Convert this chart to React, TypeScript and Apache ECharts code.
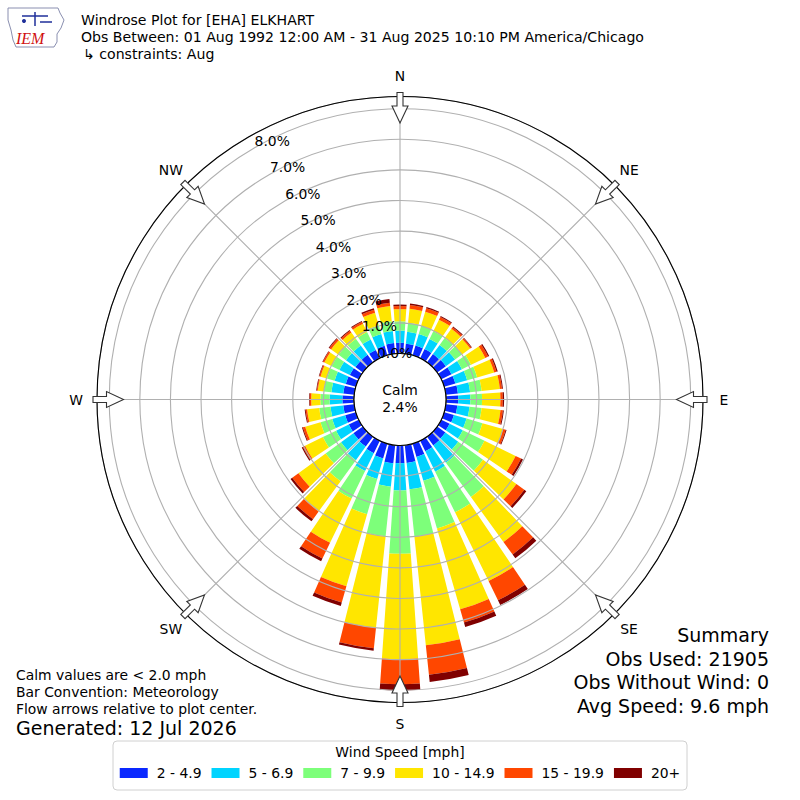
import React, { useEffect, useRef } from "react";
import * as echarts from "echarts";

// ---- data ----
const directions = [
  "0", "10", "20", "30", "40", "50", "60", "70", "80", "90", "100", "110",
  "120", "130", "140", "150", "160", "170", "180", "190", "200", "210", "220", "230",
  "240", "250", "260", "270", "280", "290", "300", "310", "320", "330", "340", "350",
];
const speedBins = ["2 - 4.9", "5 - 6.9", "7 - 9.9", "10 - 14.9", "15 - 19.9", "20+"];
const binColors = ["#0a28ff", "#00d4ff", "#7dff7a", "#ffe600", "#ff4700", "#800000"];

const bin2to5 = [0.35, 0.33, 0.33, 0.33, 0.33, 0.35, 0.37, 0.38, 0.40, 0.40, 0.38, 0.33, 0.30, 0.33, 0.35, 0.38, 0.45, 0.58, 0.58, 0.59, 0.50, 0.45, 0.40, 0.38, 0.36, 0.36, 0.36, 0.38, 0.36, 0.34, 0.32, 0.30, 0.30, 0.30, 0.32, 0.35];
const bin5to7 = [0.40, 0.39, 0.39, 0.37, 0.37, 0.37, 0.38, 0.40, 0.40, 0.40, 0.40, 0.43, 0.48, 0.52, 0.70, 0.74, 0.81, 0.87, 0.89, 0.77, 0.70, 0.65, 0.55, 0.50, 0.46, 0.44, 0.42, 0.42, 0.39, 0.38, 0.38, 0.38, 0.38, 0.38, 0.40, 0.40];
const bin7to10 = [0.30, 0.30, 0.28, 0.28, 0.28, 0.28, 0.33, 0.34, 0.38, 0.38, 0.40, 0.54, 0.79, 1.00, 1.39, 1.48, 1.62, 1.55, 2.07, 1.63, 1.20, 1.00, 0.85, 0.62, 0.48, 0.40, 0.37, 0.30, 0.25, 0.26, 0.28, 0.30, 0.27, 0.27, 0.30, 0.32];
const bin10to15 = [0.40, 0.46, 0.48, 0.42, 0.37, 0.33, 0.52, 0.58, 0.60, 0.60, 0.62, 0.70, 1.13, 1.35, 1.81, 2.50, 2.75, 3.57, 3.44, 3.01, 2.45, 1.61, 1.22, 1.10, 0.65, 0.52, 0.40, 0.30, 0.20, 0.22, 0.27, 0.30, 0.25, 0.30, 0.43, 0.50];
const bin15to20 = [0.10, 0.12, 0.12, 0.10, 0.07, 0.05, 0.10, 0.08, 0.07, 0.08, 0.08, 0.09, 0.20, 0.32, 0.51, 0.70, 0.45, 0.97, 0.82, 0.67, 0.55, 0.57, 0.31, 0.25, 0.08, 0.08, 0.05, 0.05, 0.03, 0.04, 0.05, 0.07, 0.07, 0.07, 0.10, 0.11];
const bin20plus = [0.05, 0.05, 0.04, 0.03, 0.03, 0.02, 0.04, 0.04, 0.03, 0.04, 0.03, 0.03, 0.07, 0.08, 0.15, 0.17, 0.15, 0.24, 0.21, 0.08, 0.12, 0.10, 0.09, 0.07, 0.04, 0.03, 0.03, 0.02, 0.02, 0.02, 0.02, 0.03, 0.03, 0.03, 0.05, 0.12];
const binValues = [bin2to5, bin5to7, bin7to10, bin10to15, bin15to20, bin20plus];

const radialMax = 8.4;
const radialStep = 1;
const calmPct = 2.4;
const compassNames = ["N", "NE", "E", "SE", "S", "SW", "W", "NW"];

const titleLines = [
  "Windrose Plot for [EHA] ELKHART",
  "Obs Between: 01 Aug 1992 12:00 AM - 31 Aug 2025 10:10 PM America/Chicago",
  "\u21b3 constraints: Aug",
];
const noteLines = [
  "Calm values are < 2.0 mph",
  "Bar Convention: Meteorology",
  "Flow arrows relative to plot center.",
];
const generatedLine = "Generated: 12 Jul 2026";
const summaryLines = ["Summary", "Obs Used: 21905", "Obs Without Wind: 0", "Avg Speed: 9.6 mph"];
const legendTitle = "Wind Speed [mph]";

// ---- layout ----
const CX = 400;
const CY = 399.5;
const R0 = 46;
const R1 = 303;
const RLABEL = 324;
const FONT = "DejaVu Sans";

function arrowPoints(deg: number): number[][] {
  const a = (deg * Math.PI) / 180;
  const ux = Math.sin(a), uy = -Math.cos(a);
  const px = Math.cos(a), py = Math.sin(a);
  const pt = (r: number, w: number) => [CX + ux * r + px * w, CY + uy * r + py * w];
  const rt = 307, rb = 293.5, rtip = 276.5, sw = 3, hw = 8;
  return [pt(rt, sw), pt(rb, sw), pt(rb, hw), pt(rtip, 0), pt(rb, -hw), pt(rb, -sw), pt(rt, -sw)];
}

export default function App() {
  const ref = useRef<HTMLDivElement>(null);
  useEffect(() => {
    if (!ref.current) return;
    const chart = echarts.init(ref.current, undefined, { renderer: "svg" });

    const graphics: any[] = [];
    // title
    titleLines.forEach((t, i) => {
      graphics.push({
        type: "text", x: i === 2 ? 83 : 81, y: 20 + i * 17, z: 20,
        style: { text: t, fontSize: 14.1, fontFamily: FONT, fill: "#000", align: "left", verticalAlign: "middle" },
      });
    });
    // logo (approximation)
    graphics.push({
      type: "polygon", z: 20,
      shape: { points: [[8, 8], [58, 8], [60, 13], [64, 20], [61, 28], [57, 34], [57, 42], [54, 47], [16, 47], [13, 40], [11, 30], [8, 20]] },
      style: { fill: "#fff", stroke: "#8a8fb0", lineWidth: 1 },
    });
    graphics.push({ type: "line", z: 21, shape: { x1: 22, y1: 16, x2: 48, y2: 16 }, style: { stroke: "#1f2f9a", lineWidth: 1.5 } });
    graphics.push({ type: "line", z: 21, shape: { x1: 35, y1: 12, x2: 35, y2: 26 }, style: { stroke: "#1f2f9a", lineWidth: 1.5 } });
    graphics.push({ type: "line", z: 21, shape: { x1: 40, y1: 22, x2: 52, y2: 22 }, style: { stroke: "#1f2f9a", lineWidth: 1.5 } });
    graphics.push({ type: "circle", z: 21, shape: { cx: 24, cy: 21, r: 2 }, style: { fill: "#1f2f9a" } });
    graphics.push({
      type: "text", x: 16, y: 38, z: 21,
      style: { text: "IEM", fontSize: 16, fontFamily: "Liberation Serif", fontStyle: "italic", fill: "#d01010", align: "left", verticalAlign: "middle" },
    });
    // notes
    noteLines.forEach((t, i) => {
      graphics.push({
        type: "text", x: 16, y: 675 + i * 17, z: 20,
        style: { text: t, fontSize: 13.9, fontFamily: FONT, fill: "#000", align: "left", verticalAlign: "middle" },
      });
    });
    graphics.push({
      type: "text", x: 16, y: 728, z: 20,
      style: { text: generatedLine, fontSize: 19, fontFamily: FONT, fill: "#000", align: "left", verticalAlign: "middle" },
    });
    summaryLines.forEach((t, i) => {
      graphics.push({
        type: "text", x: 769, y: 635 + i * 23.5, z: 20,
        style: { text: t, fontSize: 19, fontFamily: FONT, fill: "#000", align: "right", verticalAlign: "middle" },
      });
    });
    // calm circle
    graphics.push({
      type: "circle", z: 30, shape: { cx: CX, cy: CY, r: R0 },
      style: { fill: "#fff", stroke: "#000", lineWidth: 1.1 },
    });
    graphics.push({
      type: "text", x: CX, y: CY - 1, z: 31,
      style: { text: "Calm\n" + calmPct.toFixed(1) + "%", fontSize: 13.9, lineHeight: 17, fontFamily: FONT, fill: "#000", align: "center", verticalAlign: "middle" },
    });
    // arrows and compass labels
    compassNames.forEach((name, k) => {
      graphics.push({
        type: "polygon", z: 40, shape: { points: arrowPoints(k * 45) },
        style: { fill: "#fff", stroke: "#333", lineWidth: 1.1 },
      });
      const a = (k * 45 * Math.PI) / 180;
      graphics.push({
        type: "text", z: 40, x: CX + Math.sin(a) * RLABEL, y: CY - Math.cos(a) * RLABEL,
        style: { text: name, fontSize: 13.9, fontFamily: FONT, fill: "#000", align: "center", verticalAlign: "middle" },
      });
    });
    // legend box
    graphics.push({
      type: "rect", z: 5, shape: { x: 113, y: 741, width: 574, height: 49, r: 4 },
      style: { fill: "#fff", stroke: "#d0d0d0", lineWidth: 1 },
    });
    graphics.push({
      type: "text", x: 400, y: 752, z: 20,
      style: { text: legendTitle, fontSize: 13.9, fontFamily: FONT, fill: "#000", align: "center", verticalAlign: "middle" },
    });

    const polarCommon = { center: [CX, CY], radius: [R0, R1] };

    chart.setOption({
      animation: false,
      backgroundColor: "#fff",
      textStyle: { fontFamily: FONT },
      polar: [polarCommon, polarCommon, polarCommon],
      angleAxis: [
        {
          polarIndex: 0, type: "category", data: directions, startAngle: 95, clockwise: true,
          axisLine: { show: false }, axisTick: { show: false }, axisLabel: { show: false }, splitLine: { show: false },
        },
        {
          polarIndex: 1, type: "value", min: 0, max: 360, interval: 45, startAngle: 90, clockwise: true, z: 5,
          axisLine: { show: true, lineStyle: { color: "#000", width: 1.1 } },
          axisTick: { show: false },
          splitLine: { show: true, lineStyle: { color: "#b0b0b0", width: 1.1 } },
          axisLabel: { show: false },
        },
        {
          polarIndex: 2, type: "value", min: 0, max: 360, startAngle: 120, clockwise: true,
          axisLine: { show: false }, axisTick: { show: false }, axisLabel: { show: false }, splitLine: { show: false },
        },
      ],
      radiusAxis: [
        { polarIndex: 0, type: "value", min: 0, max: radialMax, show: false },
        {
          polarIndex: 1, type: "value", min: 0, max: radialMax, interval: radialStep, z: 5,
          axisLine: { show: false }, axisTick: { show: false }, axisLabel: { show: false },
          splitLine: { show: true, lineStyle: { color: "#b0b0b0", width: 1.1 } },
        },
        {
          polarIndex: 2, type: "value", min: 0, max: radialMax, interval: radialStep, z: 50,
          axisLine: { show: false }, axisTick: { show: false }, splitLine: { show: false },
          axisLabel: {
            show: true, margin: 0, fontSize: 13.9, color: "#000", fontFamily: FONT,
            align: "left", verticalAlign: "bottom",
            formatter: (v: number) => (Math.abs(v - Math.round(v)) < 1e-6 ? v.toFixed(1) + "%" : ""),
          },
        },
      ],
      legend: {
        data: speedBins, left: "center", top: 766, icon: "rect", itemWidth: 28, itemHeight: 10,
        itemGap: 10, padding: 0, selectedMode: false, z: 20,
        textStyle: { fontSize: 13.9, color: "#000", fontFamily: FONT, padding: [0, 0, 0, 4] },
      },
      series: speedBins.map((name, i) => ({
        name, type: "bar", coordinateSystem: "polar", polarIndex: 0, stack: "wind",
        barCategoryGap: "20%", z: 2,
        itemStyle: { color: binColors[i] },
        data: binValues[i],
      })),
      graphic: { elements: graphics },
    });
    return () => chart.dispose();
  }, []);
  return <div ref={ref} style={{ position: "absolute", left: 0, top: 0, width: 800, height: 800 }} />;
}
